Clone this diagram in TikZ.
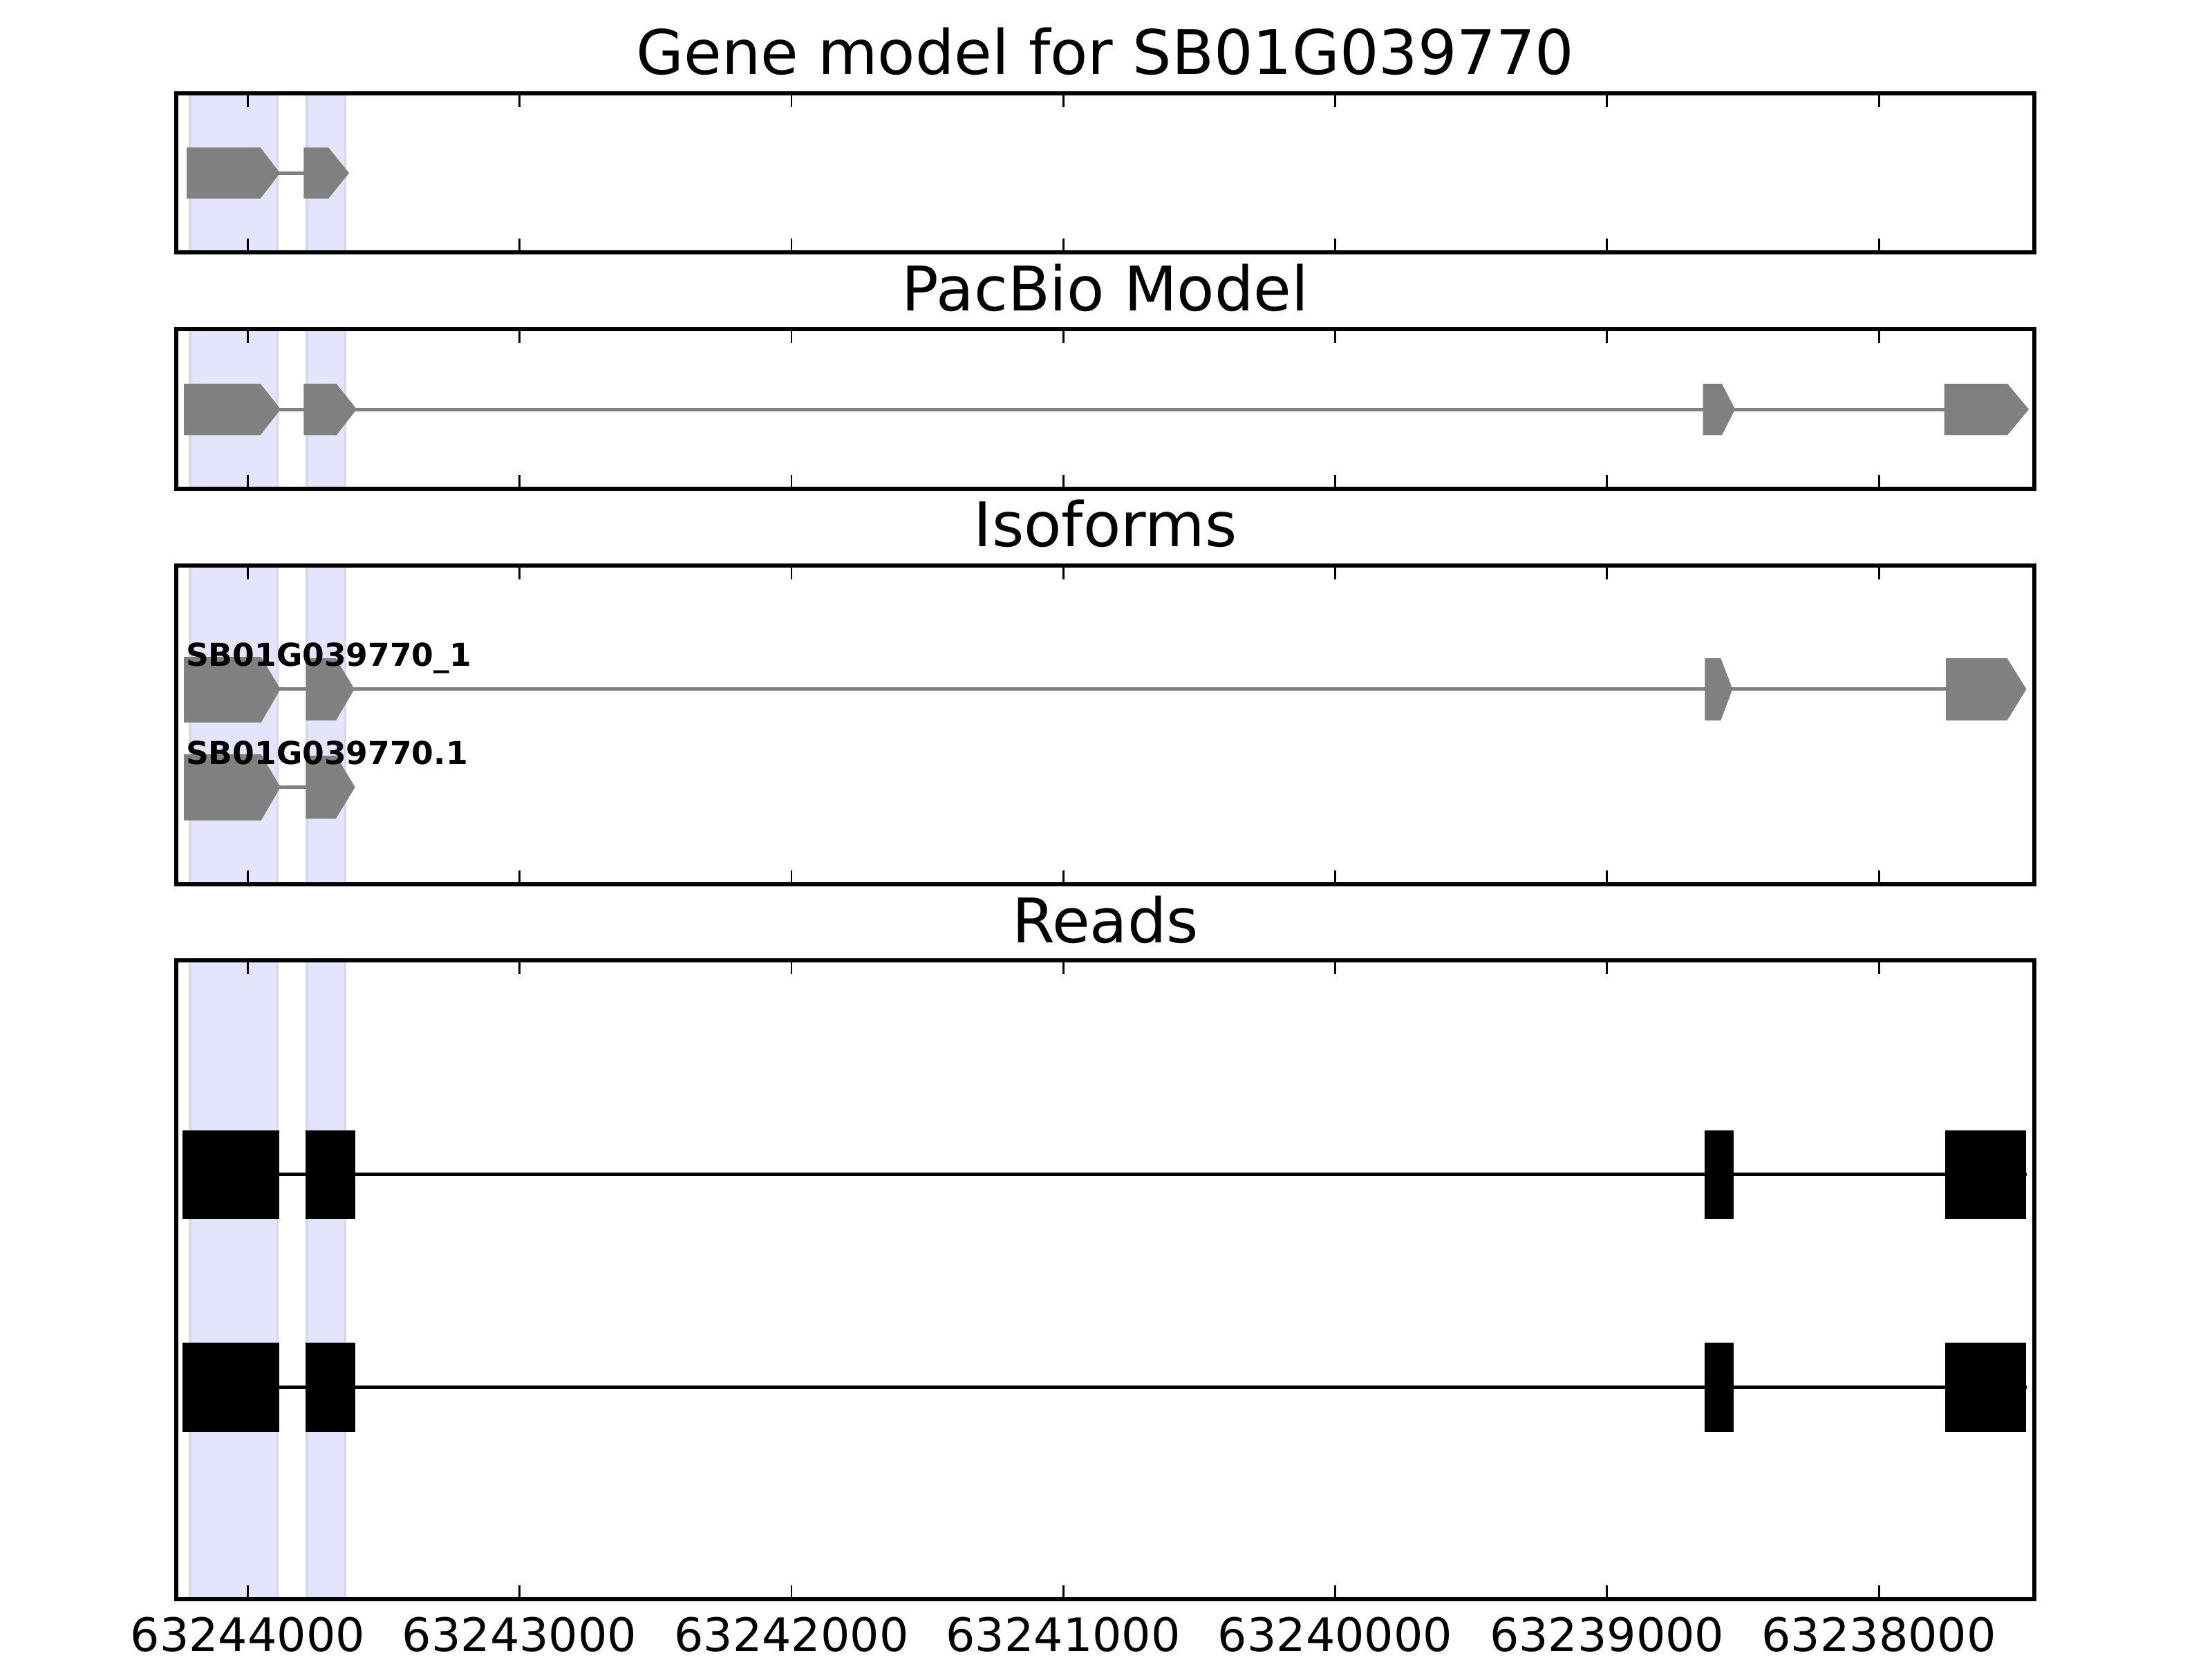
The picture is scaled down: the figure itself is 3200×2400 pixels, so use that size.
\documentclass[tikz,border=0pt]{standalone}
\usepackage{fontspec}
\setmainfont{DejaVu Sans}
\definecolor{exongrey}{RGB}{128,128,128}
\definecolor{bandfill}{RGB}{228,228,252}
\definecolor{bandedge}{RGB}{216,216,234}
\tikzset{
  exonfill/.style={fill=exongrey},
  intronline/.style={draw=exongrey, line width=0.9pt},
  readfill/.style={fill=black},
  readline/.style={draw=black, line width=0.9pt},
  bandbox/.style={fill=bandfill, draw=bandedge, line width=0.6pt},
  framebox/.style={draw=black, line width=1pt},
  tickmark/.style={draw=black, line width=0.5pt},
  paneltitle/.style={font=\fontsize{16}{19}\selectfont, anchor=base, inner sep=0pt},
  ticklabel/.style={font=\fontsize{12}{14}\selectfont, anchor=base, inner sep=0pt},
  isolabel/.style={font=\bfseries\fontsize{8.2}{10}\selectfont, anchor=base west, inner sep=0pt}
}
% exon arrow: x1 x2 x3 ytop ybot ymid style
\newcommand{\exonshape}[7]{\fill[#7] (#1,#4) -- (#2,#4) -- (#3,#6) -- (#2,#5) -- (#1,#5) -- cycle;}
\newcommand{\bandsfor}[2]{%
  \filldraw[bandbox] (275,#1) rectangle (401.7,#2);
  \filldraw[bandbox] (444,#1) rectangle (499.3,#2);}
\newcommand{\framefor}[2]{%
  \foreach \k in {0,...,6}{%
    \draw[tickmark] ({358.3+\k*393.3},#1) -- ++(0,20);
    \draw[tickmark] ({358.3+\k*393.3},#2) -- ++(0,-20);}
  \draw[framebox] (255,#1) rectangle (2943,#2);}
\begin{document}
\begin{tikzpicture}[x=0.18pt, y=-0.18pt]
\useasboundingbox (0,0) rectangle (3200,2400);
\fill[white] (0,0) rectangle (3200,2400);

% ---------- Panel 1: gene model ----------
\node[paneltitle] (t1) at (1599,107.3) {Gene model for SB01G039770};
\bandsfor{135}{365}
\draw[intronline] (400,250.3) -- (440,250.3);
\exonshape{270}{376.7}{405}{213.3}{287.3}{250.3}{exonfill}
\exonshape{439.3}{475}{505}{213.3}{287.3}{250.3}{exonfill}
\framefor{135}{365}

% ---------- Panel 2: PacBio model ----------
\node[paneltitle] (t2) at (1599,449.3) {PacBio Model};
\bandsfor{476}{707}
\draw[intronline] (300,592) -- (2930,592);
\exonshape{266}{376.7}{406}{555}{629.3}{592}{exonfill}
\exonshape{439.3}{486.7}{516}{555}{629.3}{592}{exonfill}
\exonshape{2463.6}{2491}{2510}{555}{629.3}{592}{exonfill}
\exonshape{2812.5}{2904}{2935}{555}{629.3}{592}{exonfill}
\framefor{476}{707}

% ---------- Panel 3: isoforms ----------
\node[paneltitle] (t3) at (1599,790.5) {Isoforms};
\bandsfor{818}{1279}
\draw[intronline] (300,996.7) -- (2925,996.7);
\exonshape{266}{377.7}{405.7}{950}{1045}{996.7}{exonfill}
\exonshape{442.3}{486}{512.7}{952}{1042}{996.7}{exonfill}
\exonshape{2466.4}{2489.3}{2506.4}{952}{1042}{996.7}{exonfill}
\exonshape{2815}{2903.6}{2931.4}{952}{1042}{996.7}{exonfill}
\draw[intronline] (300,1138.5) -- (445,1138.5);
\exonshape{266}{377.7}{405.7}{1091}{1186.7}{1138.5}{exonfill}
\exonshape{442.3}{486}{513.7}{1093}{1184}{1138.5}{exonfill}
\node[isolabel] (iso1) at (268,963.3) {SB01G039770\_1};
\node[isolabel] (iso2) at (268,1105) {SB01G039770.1};
\framefor{818}{1279}

% ---------- Panel 4: reads ----------
\node[paneltitle] (t4) at (1599,1363.3) {Reads};
\bandsfor{1389}{2313}
\draw[readline] (264.3,1698.7) -- (2932,1698.7);
\fill[readfill] (264.3,1635.3) rectangle (403.7,1762.7);
\fill[readfill] (442.3,1635.3) rectangle (513.7,1762.7);
\fill[readfill] (2466.4,1635.3) rectangle (2507.5,1762.7);
\fill[readfill] (2814.3,1635.3) rectangle (2931,1762.7);
\draw[readline] (264.3,2006.5) -- (2932,2006.5);
\fill[readfill] (264.3,1942.3) rectangle (403.7,2070.7);
\fill[readfill] (442.3,1942.3) rectangle (513.7,2070.7);
\fill[readfill] (2466.4,1942.3) rectangle (2507.5,2070.7);
\fill[readfill] (2814.3,1942.3) rectangle (2931,2070.7);
\framefor{1389}{2313}

% ---------- tick labels ----------
\foreach \k/\lab in {0/63244000,1/63243000,2/63242000,3/63241000,4/63240000,5/63239000,6/63238000}{%
  \node[ticklabel] (tl\k) at ({358.3+\k*393.3},2388) {\lab};}
\end{tikzpicture}
\end{document}
